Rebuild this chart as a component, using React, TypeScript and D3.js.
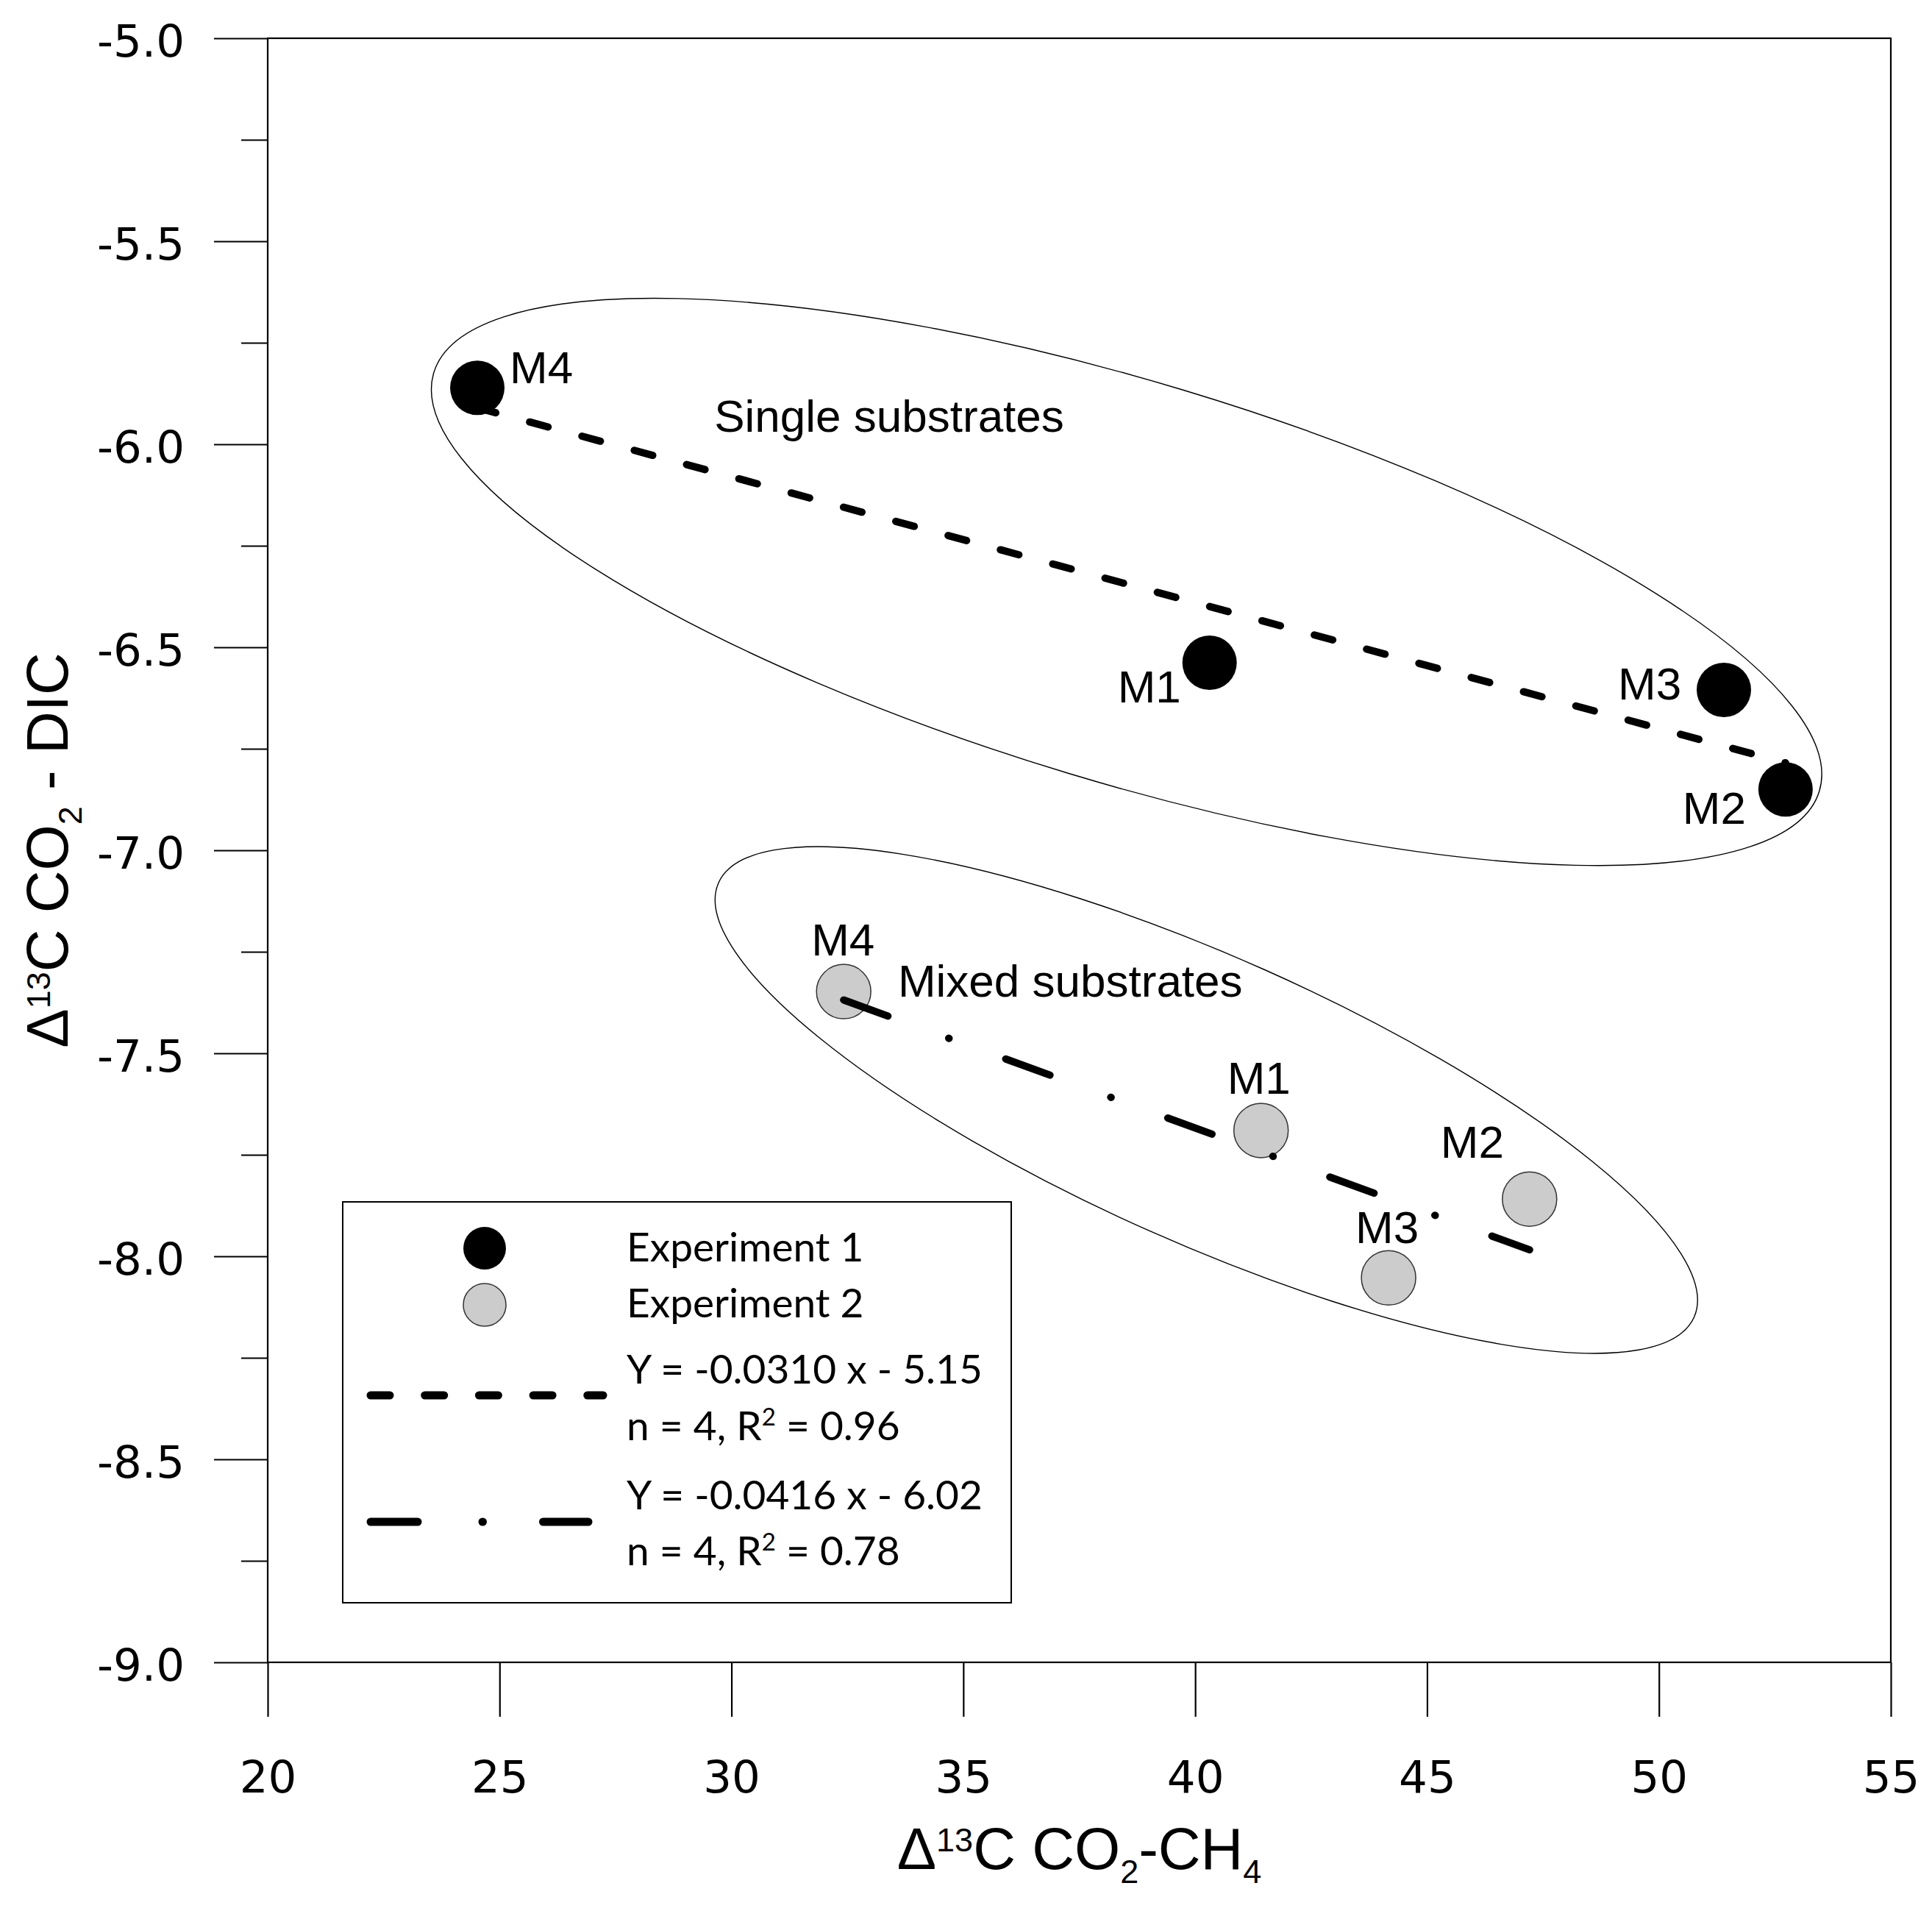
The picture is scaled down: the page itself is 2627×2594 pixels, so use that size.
import { useEffect, useRef } from 'react';
import * as d3 from 'd3';

// Experiment 1 – single substrates (black)
const exp1Names = ['M4', 'M1', 'M3', 'M2'];
const exp1X = [24.52, 40.31, 51.40, 52.73];
const exp1Y = [-5.861, -6.538, -6.605, -6.850];

// Experiment 2 – mixed substrates (grey)
const exp2Names = ['M4', 'M1', 'M2', 'M3'];
const exp2X = [32.42, 41.42, 47.21, 44.17];
const exp2Y = [-7.348, -7.690, -7.859, -8.053];

// fitted regressions, as printed in the legend
const fitSlopes = [-0.0310, -0.0416];
const fitIntercepts = [-5.15, -6.02];
const fitEquations = ['Y = -0.0310 x - 5.15', 'Y = -0.0416 x - 6.02'];
const fitR2 = ['0.96', '0.78'];
const fitN = [4, 4];

const seriesNames = ['Experiment 1', 'Experiment 2'];

// grouping ellipses and their captions (data coords)
const groupNames = ['Single substrates', 'Mixed substrates'];
const groupCenterX = [38.52, 40.24];
const groupCenterY = [-6.339, -7.615];
const groupLabelX = [29.63, 33.59];
const groupLabelY = [-5.969, -7.361];

const xTicks = [20, 25, 30, 35, 40, 45, 50, 55];
const yTicks = [-9.0, -8.5, -8.0, -7.5, -7.0, -6.5, -6.0, -5.5, -5.0];
const yMinorTicks = [-8.75, -8.25, -7.75, -7.25, -6.75, -6.25, -5.75, -5.25];

// layout / style
const W = 2627;
const H = 2594;
const PLOT = { left: 364, right: 2571, top: 52, bottom: 2260 };
const ELLIPSES = [
  { rx: 984, ry: 272, angle: 16.8 },
  { rx: 726, ry: 194, angle: 24.0 },
];
const exp1LabelOffsets = [[44, -6], [-125, 54], [-144, 13], [-140, 47]];
const exp2LabelOffsets = [[-44, -49], [-46, -50], [-121, -56], [-45, -47]];
const DOT_R = 37;
const GREY = '#cccccc';
const DASH1 = '26 47.7';
const DASH2 = '64 88 0.5 82';
const LINE_W = 10;

const labelFont = "'Liberation Sans', Arial, sans-serif";
const tickFont = "'DejaVu Sans', Verdana, sans-serif";
const legendFont = "Lato, 'Open Sans', sans-serif";

const x = d3.scaleLinear().domain([20, 55]).range([PLOT.left, PLOT.right]);
const y = d3.scaleLinear().domain([-9, -5]).range([PLOT.bottom, PLOT.top]);

function fitLine(i: number, xs: number[]) {
  const lo = d3.min(xs) as number;
  const hi = d3.max(xs) as number;
  const pts: [number, number][] = [lo, hi].map(v => [v, fitSlopes[i] * v + fitIntercepts[i]]);
  return d3.line<[number, number]>().x(d => x(d[0])).y(d => y(d[1]))(pts) as string;
}

export default function App() {
  const xAxisRef = useRef<SVGGElement>(null);
  const yAxisRef = useRef<SVGGElement>(null);
  const yMinorRef = useRef<SVGGElement>(null);

  useEffect(() => {
    const gx = d3.select(xAxisRef.current!);
    gx.call(d3.axisBottom(x).tickValues(xTicks).tickSize(74).tickPadding(60).tickFormat(d => String(d)));
    gx.select('.domain').remove();
    gx.attr('font-size', 61).attr('font-family', tickFont);
    gx.selectAll('line').attr('stroke-width', 2.2);

    const gy = d3.select(yAxisRef.current!);
    gy.call(d3.axisLeft(y).tickValues(yTicks).tickSize(73).tickPadding(40).tickFormat(d => (d as number).toFixed(1)));
    gy.select('.domain').remove();
    gy.attr('font-size', 61).attr('font-family', tickFont);
    gy.selectAll('line').attr('stroke-width', 2.2);
    gy.selectAll('text').attr('dy', '0.40em');

    const gm = d3.select(yMinorRef.current!);
    gm.call(d3.axisLeft(y).tickValues(yMinorTicks).tickSize(36).tickFormat(() => ''));
    gm.select('.domain').remove();
    gm.selectAll('line').attr('stroke-width', 2.2);
  }, []);

  const legendX = 466;
  const legendY = 1634;

  return (
    <svg width={W} height={H} style={{ position: 'absolute', left: 0, top: 0, background: '#fff' }}>
      <rect x={0} y={0} width={W} height={H} fill="#fff" />

      {/* grouping ellipses */}
      {groupNames.map((g, i) => (
        <ellipse
          key={g}
          cx={0}
          cy={0}
          rx={ELLIPSES[i].rx}
          ry={ELLIPSES[i].ry}
          transform={`translate(${x(groupCenterX[i])},${y(groupCenterY[i])}) rotate(${ELLIPSES[i].angle})`}
          fill="none"
          stroke="#000"
          strokeWidth={1.4}
        />
      ))}

      {/* frame */}
      <rect
        x={x(20)}
        y={y(-5)}
        width={x(55) - x(20)}
        height={y(-9) - y(-5)}
        fill="none"
        stroke="#000"
        strokeWidth={2.2}
      />
      <g ref={xAxisRef} transform={`translate(0,${PLOT.bottom})`} />
      <g ref={yAxisRef} transform={`translate(${PLOT.left},0)`} />
      <g ref={yMinorRef} transform={`translate(${PLOT.left},0)`} />

      {/* markers */}
      {exp1X.map((v, i) => (
        <circle key={'a' + i} cx={x(v)} cy={y(exp1Y[i])} r={DOT_R} fill="#000" />
      ))}
      {exp2X.map((v, i) => (
        <circle key={'b' + i} cx={x(v)} cy={y(exp2Y[i])} r={DOT_R} fill={GREY} stroke="#333" strokeWidth={1.5} />
      ))}

      {/* regression lines */}
      <path d={fitLine(0, exp1X)} fill="none" stroke="#000" strokeWidth={LINE_W} strokeLinecap="round" strokeDasharray={DASH1} />
      <path d={fitLine(1, exp2X)} fill="none" stroke="#000" strokeWidth={LINE_W} strokeLinecap="round" strokeDasharray={DASH2} />

      {/* point labels */}
      <g fontFamily={labelFont} fontSize={62} fill="#000">
        {exp1Names.map((n, i) => (
          <text key={'la' + i} x={x(exp1X[i]) + exp1LabelOffsets[i][0]} y={y(exp1Y[i]) + exp1LabelOffsets[i][1]}>{n}</text>
        ))}
        {exp2Names.map((n, i) => (
          <text key={'lb' + i} x={x(exp2X[i]) + exp2LabelOffsets[i][0]} y={y(exp2Y[i]) + exp2LabelOffsets[i][1]}>{n}</text>
        ))}
        {groupNames.map((g, i) => (
          <text key={'g' + i} x={x(groupLabelX[i])} y={y(groupLabelY[i])}>{g}</text>
        ))}
      </g>

      {/* legend */}
      <rect x={legendX} y={legendY} width={909} height={545} fill="#fff" stroke="#000" strokeWidth={2} />
      <circle cx={659} cy={1697} r={29} fill="#000" />
      <circle cx={659} cy={1774} r={29} fill={GREY} stroke="#333" strokeWidth={1.5} />
      <line x1={504} x2={820} y1={1897} y2={1897} stroke="#000" strokeWidth={11} strokeLinecap="round" strokeDasharray={DASH1} />
      <line x1={504} x2={800} y1={2069} y2={2069} stroke="#000" strokeWidth={11} strokeLinecap="round" strokeDasharray={DASH2} />
      <g fontFamily={legendFont} fontSize={55} fill="#000">
        <text x={852} y={1715}>{seriesNames[0]}</text>
        <text x={852} y={1791}>{seriesNames[1]}</text>
        {fitEquations.map((eq, i) => (
          <g key={'eq' + i}>
            <text x={852} y={[1881, 2052][i]}>{eq}</text>
            <text x={852} y={[1958, 2128][i]}>
              {`n = ${fitN[i]}, R`}
              <tspan fontSize={33} dy={-20}>2</tspan>
              <tspan dy={20}>{` = ${fitR2[i]}`}</tspan>
            </text>
          </g>
        ))}
      </g>

      {/* axis titles */}
      <text x={(PLOT.left + PLOT.right) / 2} y={2541} textAnchor="middle" fontFamily={labelFont} fontSize={80} fill="#000">
        Δ<tspan fontSize={45} dy={-24}>13</tspan>
        <tspan dy={24}>C CO</tspan>
        <tspan fontSize={45} dy={19}>2</tspan>
        <tspan dy={-19}>-CH</tspan>
        <tspan fontSize={45} dy={19}>4</tspan>
      </text>
      <text
        transform={`translate(92,${(PLOT.top + PLOT.bottom) / 2}) rotate(-90)`}
        textAnchor="middle"
        fontFamily={labelFont}
        fontSize={80}
        fill="#000"
      >
        Δ<tspan fontSize={45} dy={-24}>13</tspan>
        <tspan dy={24}>C CO</tspan>
        <tspan fontSize={45} dy={19}>2</tspan>
        <tspan dy={-19}> - DIC</tspan>
      </text>
    </svg>
  );
}
